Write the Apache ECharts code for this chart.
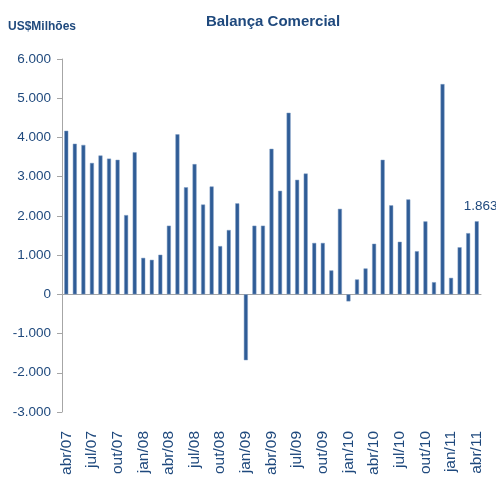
<!DOCTYPE html>
<html>
<head>
<meta charset="utf-8">
<script src="https://cdn.jsdelivr.net/npm/echarts@6/dist/echarts.min.js"></script>
<style>
  html, body { margin: 0; padding: 0; background: #fff; }
  #chart { width: 496px; height: 483px; }
</style>
</head>
<body>
<div id="chart"></div>
<script>
// months abr/07 .. abr/11
const years = ['07', '08', '09', '10', '11'];
const monthNames = ['jan', 'fev', 'mar', 'abr', 'mai', 'jun', 'jul', 'ago', 'set', 'out', 'nov', 'dez'];
const months = [];
for (let y = 0; y < years.length; y++) {
  for (let m = 0; m < 12; m++) {
    if (y === 0 && m < 3) continue;
    if (y === 4 && m > 3) break;
    months.push(monthNames[m] + '/' + years[y]);
  }
}

// saldo mensal, US$ milhões
const saldo = [
  4170, 3840, 3810, 3350, 3540, 3460, 3430, 2020, 3620,
  930, 880, 1010, 1750, 4080, 2730, 3320, 2290, 2750, 1230, 1640, 2320,
  -1680, 1750, 1750, 3710, 2640, 4630, 2920, 3080, 1310, 1310, 610, 2180,
  -180, 380, 660, 1290, 3430, 2270, 1340, 2420, 1100, 1860, 310, 5360,
  420, 1200, 1560, 1863
];

const blue = '#1F497D';
const font = "'Liberation Sans', sans-serif";
const fmt = v => {
  const s = Math.abs(v).toString().replace(/\B(?=(\d{3})+(?!\d))/g, '.');
  return (v < 0 ? '-' : '') + s;
};

const chart = echarts.init(document.getElementById('chart'));
chart.setOption({
  animation: false,
  textStyle: { fontFamily: font },
  title: {
    text: 'Balança Comercial',
    left: 268, top: 9, textAlign: 'center',
    textStyle: { color: blue, fontSize: 15, fontWeight: 'bold', fontFamily: font }
  },
  graphic: [{
    type: 'text', left: 8, top: 21,
    style: { text: 'US$Milhões', fill: blue, font: "bold 12px 'Liberation Sans', sans-serif" }
  }],
  grid: { left: 62, right: 15, top: 59, bottom: 71, containLabel: false, outerBoundsMode: 'none' },
  xAxis: [{
    // line + ticks at zero
    type: 'category',
    data: months,
    boundaryGap: true,
    axisLine: { onZero: true, lineStyle: { color: '#A6A6A6', width: 1 } },
    axisTick: { interval: 2, length: 6, lineStyle: { color: '#A6A6A6' } },
    axisLabel: { show: false }
  }, {
    // labels at bottom
    type: 'category',
    data: months,
    position: 'bottom',
    boundaryGap: true,
    axisLine: { show: false, onZero: false },
    axisTick: { show: false },
    axisLabel: {
      interval: 2, rotate: 90, margin: 19,
      color: blue, fontSize: 15.5, fontFamily: font
    }
  }],
  yAxis: {
    type: 'value',
    min: -3000, max: 6000, interval: 1000,
    splitLine: { show: false },
    axisLine: { show: true, lineStyle: { color: '#A6A6A6' } },
    axisTick: { show: true, length: 5, lineStyle: { color: '#A6A6A6' } },
    axisLabel: {
      color: blue, fontSize: 13.5, margin: 11,
      fontFamily: font,
      formatter: fmt
    }
  },
  series: [{
    type: 'bar',
    data: saldo.map((v, i) => i === saldo.length - 1
      ? { value: v, label: { show: true, position: 'top', distance: 8, offset: [4, 0], formatter: p => fmt(p.value), color: blue, fontSize: 13.5, fontFamily: font } }
      : v),
    barWidth: 4,
    itemStyle: { color: '#2F5C96', borderColor: '#7E9CC4', borderWidth: 0.5 }
  }]
});
</script>
</body>
</html>
